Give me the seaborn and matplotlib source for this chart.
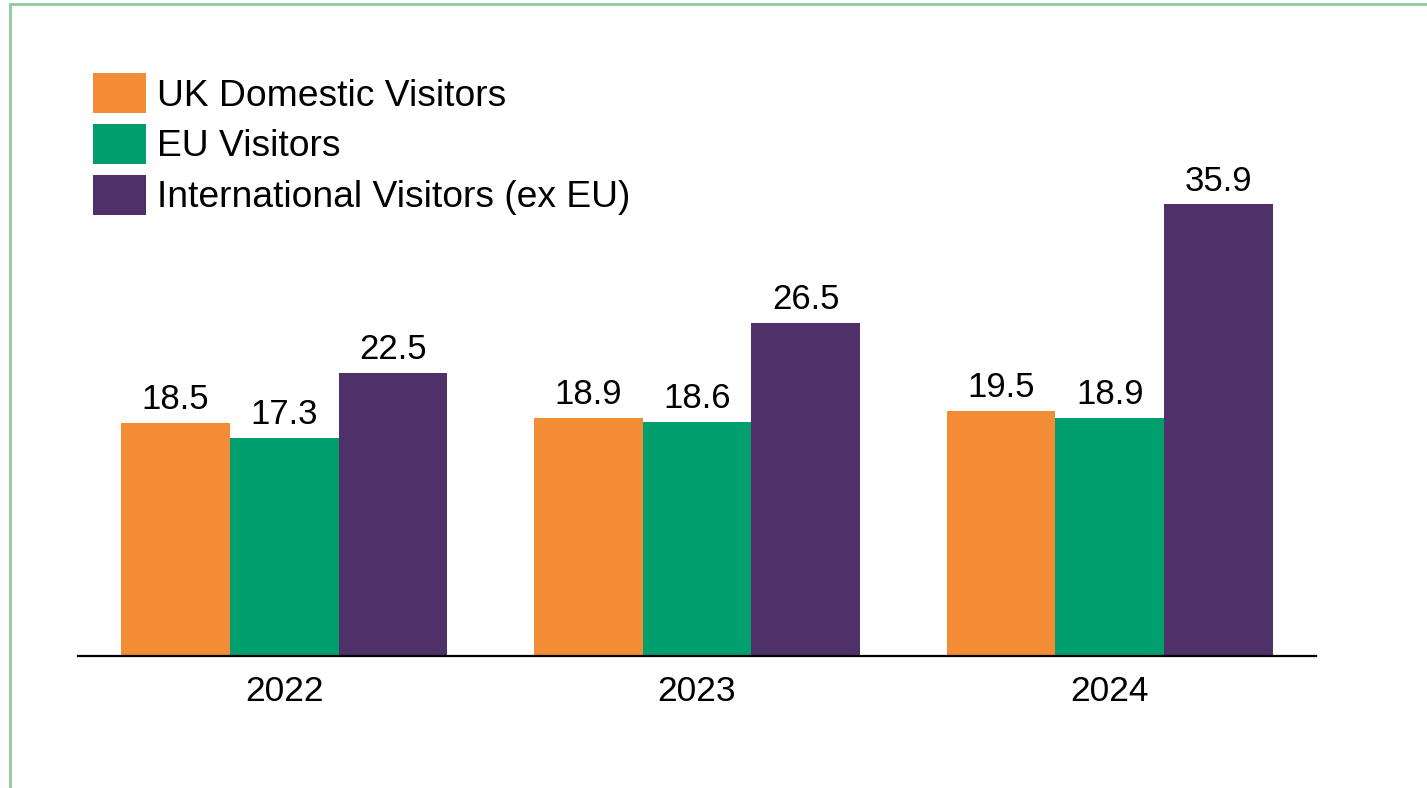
import numpy as np
import pandas as pd
import matplotlib
matplotlib.use("Agg")
import matplotlib.pyplot as plt
import seaborn as sns
from matplotlib.patches import Patch, Rectangle

years = ["2022", "2023", "2024"]
groups = ["UK Domestic Visitors", "EU Visitors", "International Visitors (ex EU)"]
uk_domestic = [18.5, 18.9, 19.5]
eu_visitors = [17.3, 18.6, 18.9]
international = [22.5, 26.5, 35.9]
colours = ["#F28D35", "#009F6D", "#4F3068"]

df = pd.DataFrame({
    "year": years * 3,
    "group": [g for g in groups for _ in years],
    "value": uk_domestic + eu_visitors + international,
})

sns.set_theme(style="white")
plt.rcParams["font.family"] = ["Liberation Sans", "DejaVu Sans"]
plt.rcParams["text.color"] = "black"

W, H = 1427, 788
fig = plt.figure(figsize=(W / 100, H / 100), dpi=100)
ax = fig.add_axes([78 / W, 1 - 656 / H, (1316 - 78) / W, (656 - 90) / H])

sns.barplot(data=df, x="year", y="value", hue="group", palette=colours,
            width=0.79, saturation=1, linewidth=0, ax=ax, legend=False)

for c in ax.containers:
    ax.bar_label(c, fmt="%.1f", padding=5, fontsize=25, color="black")

ax.set_xlim(-0.5, 2.5)
ax.set_ylim(0, 45)
ax.set_xlabel("")
ax.set_ylabel("")
ax.set_yticks([])
ax.tick_params(axis="x", length=0, pad=14, labelsize=25.5, colors="black")
for s in ["top", "right", "left"]:
    ax.spines[s].set_visible(False)
ax.spines["bottom"].set_color("black")
ax.spines["bottom"].set_linewidth(1.6)

handles = [Patch(facecolor=c, edgecolor="none") for c in colours]
leg = fig.legend(handles, groups, loc="upper left", bbox_to_anchor=(93 / W, 1 - 73 / H),
                 frameon=False, fontsize=26.8, handlelength=1.42, handleheight=1.28,
                 handletextpad=0.3, labelspacing=0.28, borderaxespad=0, borderpad=0)
for t in leg.get_texts():
    t.set_color("black")

# light green frame at top and left
fig.patches.append(Rectangle((10 / W, -0.1), 1.2, 1 - 4 / H + 0.1,
                             transform=fig.transFigure, fill=False,
                             edgecolor="#8DCB9E", linewidth=2))

fig.savefig("out.png", dpi=100)
